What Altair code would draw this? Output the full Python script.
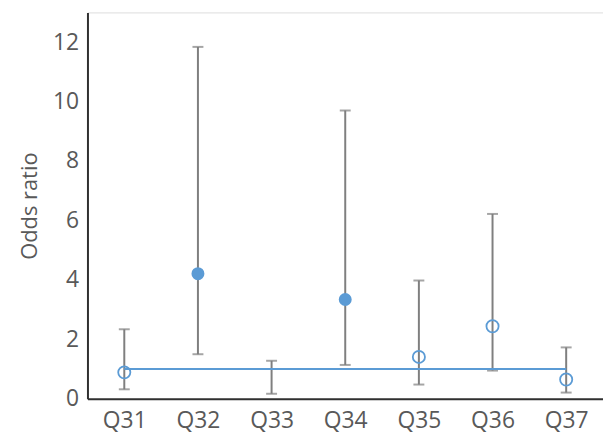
import altair as alt
import pandas as pd

questions = ["Q31", "Q32", "Q33", "Q34", "Q35", "Q36", "Q37"]
odds_ratio = [0.89, 4.21, None, 3.34, 1.41, 2.44, 0.65]
ci_lower = [0.32, 1.50, 0.17, 1.14, 0.48, 0.95, 0.21]
ci_upper = [2.34, 11.84, 1.28, 9.70, 3.98, 6.22, 1.73]
significant = [False, True, False, True, False, False, False]
reference_value = 1.0
y_ticks = [0, 2, 4, 6, 8, 10, 12]

df = pd.DataFrame({
    "q": questions,
    "or": odds_ratio,
    "lo": ci_lower,
    "hi": ci_upper,
    "sig": significant,
})
ref_df = pd.DataFrame({"q1": [questions[0]], "q2": [questions[-1]], "v": [reference_value]})

FONT = "Open Sans"
GREY = "#7f7f7f"
BLUE = "#5b9bd5"
TXT = "#595959"

x = alt.X("q:N", sort=questions,
          scale=alt.Scale(type="point", padding=0.5),
          axis=alt.Axis(title=None, labelAngle=0, ticks=False, grid=False,
                        labelFontSize=23, labelColor=TXT, labelFont=FONT,
                        labelPadding=11, domainColor="#303030", domainWidth=2))
yscale = alt.Scale(domain=[0, 13], nice=False)
yaxis = alt.Axis(title="Odds ratio", values=y_ticks, ticks=False, grid=False,
                 labelFontSize=23, labelColor=TXT, labelFont=FONT,
                 labelPadding=9, titleFontSize=22, titleFont=FONT,
                 titleColor=TXT, titleFontWeight="normal", titlePadding=11,
                 domainColor="#303030", domainWidth=2)

base = alt.Chart(df)

bars = base.mark_rule(color=GREY, strokeWidth=2).encode(
    x=x,
    y=alt.Y("lo:Q", scale=yscale, axis=yaxis),
    y2="hi:Q",
)
cap_hi = base.mark_tick(color=GREY, orient="horizontal", size=11, thickness=2).encode(
    x=x, y=alt.Y("hi:Q", scale=yscale))
cap_lo = base.mark_tick(color=GREY, orient="horizontal", size=11, thickness=2).encode(
    x=x, y=alt.Y("lo:Q", scale=yscale))

ref = alt.Chart(ref_df).mark_rule(color=BLUE, strokeWidth=2).encode(
    x=alt.X("q1:N", sort=questions, scale=alt.Scale(type="point", padding=0.5)),
    x2="q2:N",
    y=alt.Y("v:Q", scale=yscale),
)

open_pts = base.transform_filter("!datum.sig").mark_point(
    shape="circle", filled=False, color=BLUE, strokeWidth=1.8, opacity=1, size=150
).encode(x=x, y=alt.Y("or:Q", scale=yscale))

filled_pts = base.transform_filter("datum.sig").mark_point(
    shape="circle", filled=True, color=BLUE, opacity=1, size=170
).encode(x=x, y=alt.Y("or:Q", scale=yscale))

chart = alt.layer(bars, cap_hi, cap_lo, ref, open_pts, filled_pts).properties(
    width=519, height=389,
    autosize=alt.AutoSizeParams(type="none"),
    padding={"left": 80, "top": 3, "right": 0, "bottom": 37},
).configure_view(stroke="transparent", strokeWidth=0).configure(background="white")

chart.save("out.html", embed_options={"renderer": "svg", "actions": False})
